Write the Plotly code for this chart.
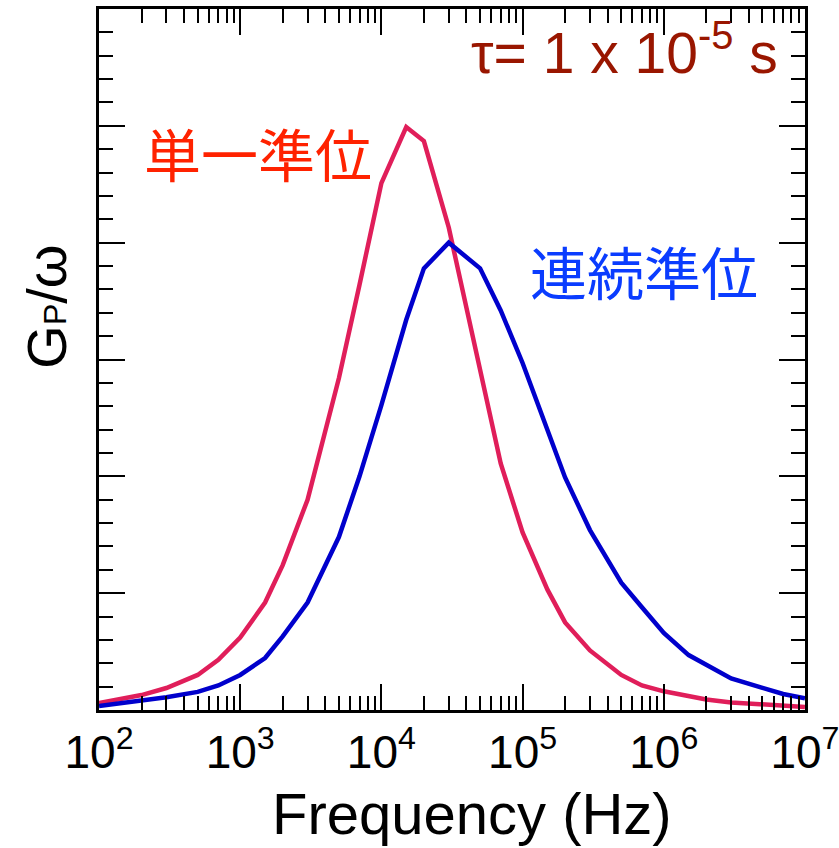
import plotly.graph_objects as go

freq = [100, 150, 200, 300, 500, 700, 1000, 1500, 2000, 3000, 5000, 7000,
        1e4, 1.5e4, 2e4, 3e4, 5e4, 7e4, 1e5, 1.5e5, 2e5, 3e5, 5e5, 7e5,
        1e6, 1.5e6, 2e6, 3e6, 5e6, 7e6, 1e7]

single_level = [0.06, 0.095, 0.128, 0.188, 0.30, 0.43, 0.62, 0.92, 1.24, 1.80, 2.84, 3.64,
                4.51, 4.99, 4.87, 4.13, 2.91, 2.11, 1.52, 1.03, 0.75, 0.51, 0.30, 0.21,
                0.16, 0.12, 0.09, 0.065, 0.045, 0.035, 0.025]

continuum = [0.035, 0.06, 0.08, 0.11, 0.155, 0.21, 0.30, 0.445, 0.63, 0.92, 1.48, 2.0,
             2.61, 3.34, 3.78, 4.0, 3.78, 3.42, 2.97, 2.40, 1.99, 1.54, 1.09, 0.88,
             0.66, 0.47, 0.385, 0.27, 0.19, 0.137, 0.10]

tick_vals = [1e2, 1e3, 1e4, 1e5, 1e6, 1e7]
tick_text = ["10<sup>2</sup>", "10<sup>3</sup>", "10<sup>4</sup>",
             "10<sup>5</sup>", "10<sup>6</sup>", "10<sup>7</sup>"]

FONT = "Liberation Sans, Arial, Helvetica, sans-serif"
CJK = "Noto Sans CJK JP, sans-serif"

fig = go.Figure()
fig.add_trace(go.Scatter(x=freq, y=single_level, mode="lines",
                         line=dict(color="#e01e5a", width=4.5), showlegend=False))
fig.add_trace(go.Scatter(x=freq, y=continuum, mode="lines",
                         line=dict(color="#0000cc", width=4.5), showlegend=False))

fig.update_layout(
    width=839, height=848,
    margin=dict(l=99, r=34, t=9, b=138),
    paper_bgcolor="white", plot_bgcolor="white",
    font=dict(family=FONT, color="black"),
    xaxis=dict(type="log", range=[2, 7.0002], showgrid=False, zeroline=False,
               automargin=False,
               showline=True, linecolor="black", linewidth=3, mirror="ticks",
               ticks="inside", ticklen=26, tickwidth=2, tickcolor="black",
               tickvals=tick_vals, ticktext=tick_text, ticklabeloverflow="allow",
               tickfont=dict(size=46, family=FONT, color="black"),
               minor=dict(ticks="inside", ticklen=14, tickwidth=2, tickcolor="black",
                          dtick="D1", showgrid=False)),
    yaxis=dict(range=[0, 6], showgrid=False, zeroline=False, automargin=False,
               showline=True, linecolor="black", linewidth=3, mirror="ticks",
               ticks="inside", ticklen=26, tickwidth=2, tickcolor="black",
               dtick=1, tick0=0, showticklabels=False,
               minor=dict(ticks="inside", ticklen=14, tickwidth=2, tickcolor="black",
                          dtick=0.2, showgrid=False)),
)

fig.add_annotation(text="Frequency (Hz)", xref="paper", yref="paper",
                   x=0.528, y=-0.1965, xanchor="center", yanchor="bottom",
                   showarrow=False, font=dict(size=58, family=FONT, color="black"))
fig.add_annotation(text='G<span style="font-size:32px">P</span>/ω', xref="paper", yref="paper",
                   x=-0.074, y=0.575, xanchor="center", yanchor="middle", textangle=-90,
                   showarrow=False, font=dict(size=56, family=FONT, color="black"))
fig.add_annotation(text="τ= 1 x 10<sup>-5</sup> s", xref="paper", yref="paper",
                   x=0.9646, y=0.943, xanchor="right", yanchor="middle",
                   showarrow=False, font=dict(size=57, family=FONT, color="#991600"))
fig.add_annotation(text="単一準位", xref="paper", yref="paper",
                   x=0.225, y=0.796, xanchor="center", yanchor="middle",
                   showarrow=False, font=dict(size=57, family=CJK, color="#ff2200"))
fig.add_annotation(text="連続準位", xref="paper", yref="paper",
                   x=0.772, y=0.628, xanchor="center", yanchor="middle",
                   showarrow=False, font=dict(size=57, family=CJK, color="#0a3cff"))

fig.write_html("out.html")
